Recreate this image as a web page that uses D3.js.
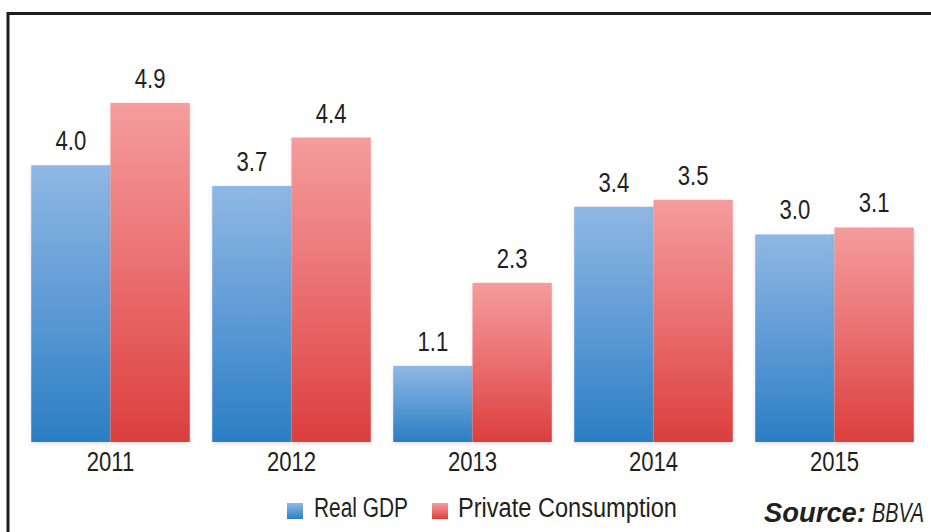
<!DOCTYPE html>
<html>
<head>
<meta charset="utf-8">
<script src="https://cdn.jsdelivr.net/npm/d3@7"></script>
<style>
  html, body { margin: 0; padding: 0; background: #fff; }
  svg { display: block; }
  text { font-family: 'Liberation Sans', Arial, sans-serif; fill: #231f20; }
</style>
</head>
<body>
<svg id="chart" width="931" height="532"></svg>
<script>
// Annual growth, %
const years = ["2011", "2012", "2013", "2014", "2015"];
const realGDP = [4.0, 3.7, 1.1, 3.4, 3.0];
const privateConsumption = [4.9, 4.4, 2.3, 3.5, 3.1];
const seriesNames = ["Real GDP", "Private Consumption"];

const W = 931, H = 532;
const FONT = 27;       // label size
const NARROW = 0.82;   // horizontal squeeze for a condensed look
const svg = d3.select("#chart");

svg.append("rect").attr("width", W).attr("height", H).attr("fill", "#fff");

// Gradients: light at the top of each bar, saturated at the base
const defs = svg.append("defs");
const gradStops = [
  { id: "gBlue", top: "#8fb8e4", mid: "#5f9bd6", bottom: "#2a7ec3" },
  { id: "gRed", top: "#f59c9d", mid: "#ea6f70", bottom: "#dc3e3d" }
];
gradStops.forEach(g => {
  const lg = defs.append("linearGradient").attr("id", g.id)
    .attr("x1", 0).attr("y1", 0).attr("x2", 0).attr("y2", 1);
  lg.append("stop").attr("offset", "0%").attr("stop-color", g.top);
  lg.append("stop").attr("offset", "50%").attr("stop-color", g.mid);
  lg.append("stop").attr("offset", "100%").attr("stop-color", g.bottom);
});
const shadow = defs.append("filter").attr("id", "soft")
  .attr("x", "-10%").attr("y", "-10%").attr("width", "120%").attr("height", "130%");
shadow.append("feDropShadow").attr("dx", 0).attr("dy", 2)
  .attr("stdDeviation", 2).attr("flood-color", "#b08080").attr("flood-opacity", 0.25);

// Scales
const x0 = d3.scaleBand().domain(years).range([20, 925])
  .paddingInner(0.124).paddingOuter(0.062);
const x1 = d3.scaleBand().domain(seriesNames).range([0, x0.bandwidth()]);
const y = d3.scaleLinear().domain([0, 5]).range([442, 96]);

const rows = years.map((yr, i) => ({
  year: yr,
  vals: [
    { key: seriesNames[0], v: realGDP[i], fill: "url(#gBlue)" },
    { key: seriesNames[1], v: privateConsumption[i], fill: "url(#gRed)" }
  ]
}));

const groups = svg.append("g").selectAll("g").data(rows).join("g")
  .attr("transform", d => `translate(${x0(d.year)},0)`);

groups.selectAll("rect").data(d => d.vals).join("rect")
  .attr("x", d => x1(d.key))
  .attr("y", d => y(d.v))
  .attr("width", x1.bandwidth())
  .attr("height", d => y(0) - y(d.v))
  .attr("fill", d => d.fill)
  .attr("filter", "url(#soft)");

// Value labels above each bar
groups.selectAll("text.val").data(d => d.vals).join("text")
  .attr("class", "val")
  .attr("transform", d =>
    `translate(${x1(d.key) + x1.bandwidth() / 2},${y(d.v) - 15}) scale(${NARROW},1)`)
  .attr("text-anchor", "middle")
  .attr("font-size", FONT)
  .text(d => d.v.toFixed(1));

// Category axis labels
const xAxis = d3.axisBottom(x0).tickSize(0).tickPadding(0);
const ax = svg.append("g").attr("transform", "translate(0,442)").call(xAxis);
ax.select(".domain").remove();
ax.selectAll("text")
  .attr("dy", null).attr("y", 0)
  .attr("transform", `translate(0,29) scale(${NARROW},1)`)
  .attr("font-size", FONT)
  .style("font-family", "'Liberation Sans', Arial, sans-serif")
  .attr("fill", "#231f20");

// Squeeze a text horizontally so it spans the given width
function fitWidth(sel, x, yPos, w) {
  sel.each(function () {
    const natural = this.getComputedTextLength() || w;
    d3.select(this).attr("transform", `translate(${x},${yPos}) scale(${w / natural},1)`);
  });
}

// Legend
const legend = [
  { name: seriesNames[0], fill: "url(#gBlue)", sx: 287, tx: 314, w: 94 },
  { name: seriesNames[1], fill: "url(#gRed)", sx: 432, tx: 458, w: 219 }
];
const lg = svg.append("g").selectAll("g").data(legend).join("g");
lg.append("rect").attr("x", d => d.sx).attr("y", 503)
  .attr("width", 16).attr("height", 16).attr("fill", d => d.fill);
lg.append("text")
  .attr("font-size", FONT)
  .text(d => d.name)
  .each(function (d) { fitWidth(d3.select(this), d.tx, 517, d.w); });

// Source note: bold italic lead-in, italic name
const srcParts = [
  { t: "Source:", x: 764, w: 102, weight: "bold" },
  { t: "BBVA", x: 872, w: 52, weight: "normal" }
];
svg.append("g").selectAll("text").data(srcParts).join("text")
  .attr("font-size", 27).attr("font-style", "italic")
  .attr("font-weight", d => d.weight)
  .text(d => d.t)
  .each(function (d) { fitWidth(d3.select(this), d.x, 522, d.w); });

// Frame along the top and left edges
svg.append("path")
  .attr("d", `M8,${H} V13.5 H${W}`)
  .attr("fill", "none").attr("stroke", "#1c1c1c").attr("stroke-width", 3);
</script>
</body>
</html>
